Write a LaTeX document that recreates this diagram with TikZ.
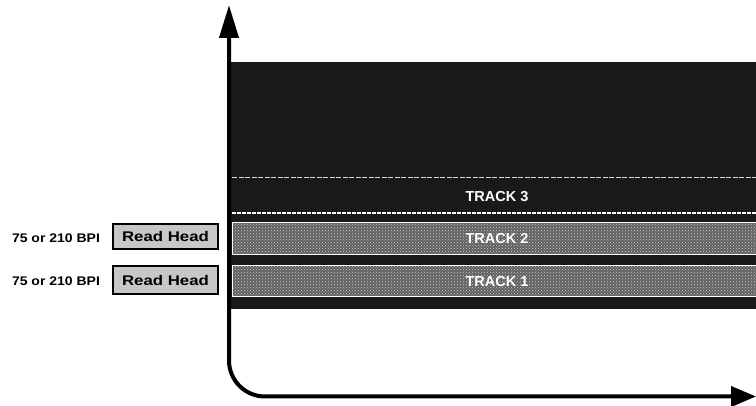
\documentclass[tikz,border=0pt]{standalone}
\usepackage{fontspec}
\setmainfont{Liberation Sans}
\usetikzlibrary{arrows.meta,patterns}
\begin{document}
\begin{tikzpicture}[x=1pt,y=-1pt,
  tapebox/.style={anchor=north west, fill=black!90, draw=none, inner sep=0, outer sep=0},
  trackbox/.style={anchor=north west, fill=black!62, draw=white, line width=1pt, inner sep=0, outer sep=0},
  trackpat/.style={pattern=crosshatch dots, pattern color=white!80!black},
  tracklbl/.style={text=white, font=\bfseries\fontsize{14.5}{16}\selectfont, inner sep=0},
  bpilbl/.style={font=\bfseries\fontsize{12.5}{14}\selectfont, inner sep=0},
  headbox/.style={fill=black!22, draw=black, minimum width=105pt, inner sep=0,
    font=\bfseries\fontsize{14}{16}\selectfont},
  axis/.style={line width=4pt, rounded corners=36pt}
]
\useasboundingbox (0,0) rectangle (756,406);
% tape
\node[tapebox, minimum width=525pt, minimum height=247pt] (tape) at (231,62) {};
% tracks
\node[trackbox, minimum width=526pt, minimum height=32pt] (t2) at (232,223) {};
\node[trackbox, minimum width=526pt, minimum height=31pt] (t1) at (232,266) {};
\fill[trackpat] (t2.north west) rectangle (t2.south east);
\fill[trackpat] (t1.north west) rectangle (t1.south east);
\draw[white, line width=1pt] (t2.north west) rectangle (t2.south east);
\draw[white, line width=1pt] (t1.north west) rectangle (t1.south east);
\coordinate (d1) at (232,178);
\coordinate (d2) at (756,178);
\coordinate (s1) at (232,213.5);
\coordinate (s2) at (756,213.5);
\draw[white!85!black, line width=1pt, dash pattern=on 5pt off 1.5pt] (d1) -- (d2);
\draw[white, line width=2pt, dash pattern=on 4pt off 1pt] (s1) -- (s2);
\node[tracklbl] (l3) at (497,197) {TRACK 3};
\node[tracklbl] (l2) at (497,238.5) {TRACK 2};
\node[tracklbl] (l1) at (497,282) {TRACK 1};
% read heads
\node[headbox, line width=1.2pt, minimum height=25pt] (h2) at (165.5,236.5) {\scalebox{1.2}[1]{Read Head}};
\node[headbox, line width=2pt, minimum height=28pt] (h1) at (165.5,280) {\scalebox{1.2}[1]{Read Head}};
\node[bpilbl] (b2) at (56,238) {\scalebox{1.12}[1]{75 or 210 BPI}};
\node[bpilbl] (b1) at (56,281) {\scalebox{1.12}[1]{75 or 210 BPI}};
% axes
\coordinate (ytop) at (229,5);
\coordinate (orig) at (229,396.5);
\coordinate (xend) at (756,396.5);
\draw[axis, {Triangle[length=33pt,width=19pt]}-{Triangle[length=25pt,width=20pt]}] (ytop) -- (orig) -- (xend);
\end{tikzpicture}
\end{document}
